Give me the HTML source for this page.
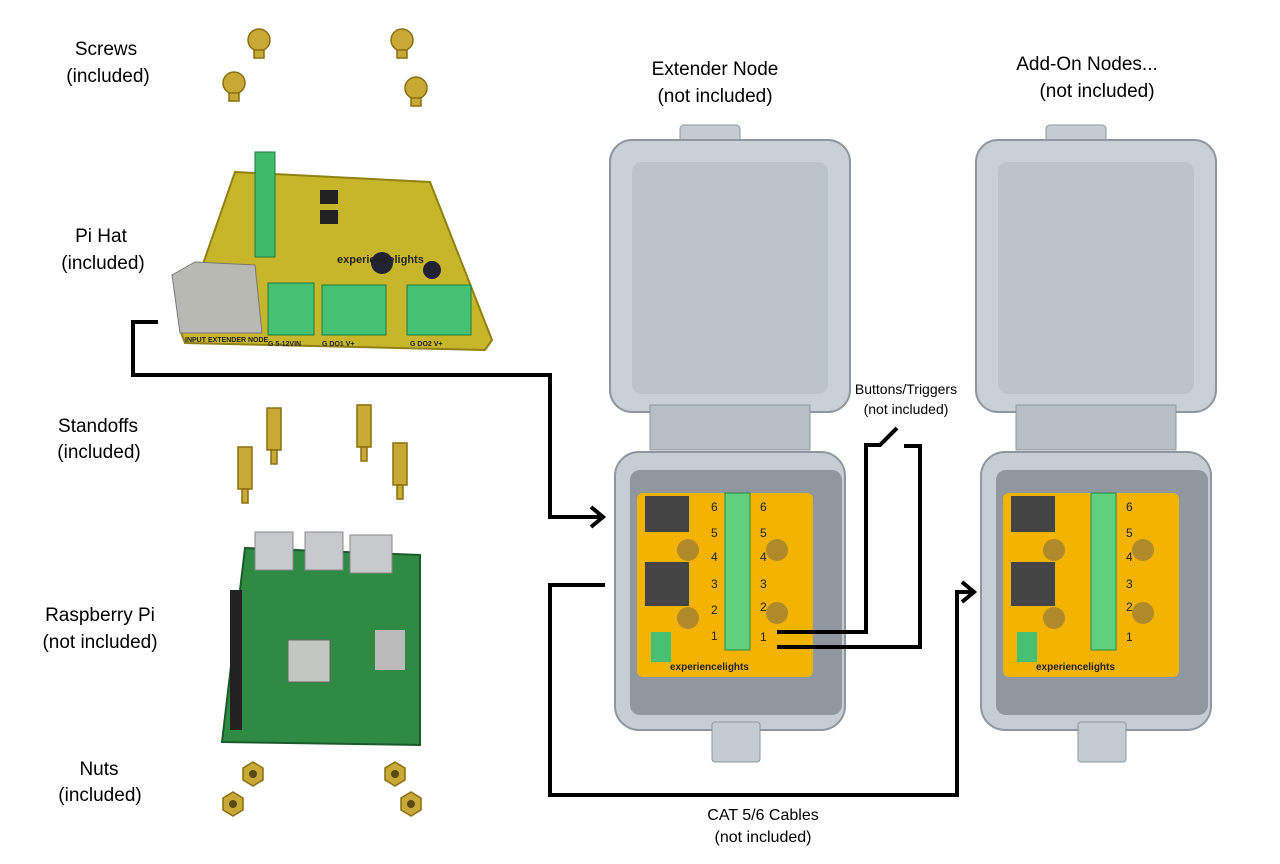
<!DOCTYPE html>
<html><head><meta charset="utf-8"><style>
html,body{margin:0;padding:0;background:#fff;}
svg{display:block;font-family:"Liberation Sans",sans-serif;}
</style></head><body>
<svg width="1280" height="864" viewBox="0 0 1280 864" xmlns="http://www.w3.org/2000/svg">
<rect width="1280" height="864" fill="#fff"/>
<!-- left labels -->
<g font-size="19" text-anchor="middle" fill="#000">
<text x="106" y="55">Screws</text><text x="108" y="82">(included)</text>
<text x="101" y="242">Pi Hat</text><text x="103" y="269">(included)</text>
<text x="98" y="432">Standoffs</text><text x="99" y="458">(included)</text>
<text x="100" y="621">Raspberry Pi</text><text x="100" y="648">(not included)</text>
<text x="99" y="775">Nuts</text><text x="100" y="801">(included)</text>
<text x="715" y="75">Extender Node</text><text x="715" y="102">(not included)</text>
<text x="1087" y="70">Add-On Nodes...</text><text x="1097" y="97">(not included)</text>
</g>
<g font-size="14" text-anchor="middle"><text x="906" y="394">Buttons/Triggers</text><text x="906" y="414">(not included)</text></g>
<g font-size="16" text-anchor="middle"><text x="763" y="820">CAT 5/6 Cables</text><text x="763" y="842">(not included)</text></g>

<!-- screws -->
<g fill="#c9a935" stroke="#8a6d10" stroke-width="1.5">
<circle cx="259" cy="40" r="11"/><rect x="254" y="50" width="10" height="8"/>
<circle cx="402" cy="40" r="11"/><rect x="397" y="50" width="10" height="8"/>
<circle cx="234" cy="83" r="11"/><rect x="229" y="93" width="10" height="8"/>
<circle cx="416" cy="88" r="11"/><rect x="411" y="98" width="10" height="8"/>
</g>
<!-- Pi hat -->
<polygon points="235,172 430,182 492,340 485,350 185,343 180,330" fill="#c8b62a" stroke="#8f8010" stroke-width="2"/>
<polygon points="172,275 195,262 255,265 262,333 180,333" fill="#b9b9b4" stroke="#777" />
<rect x="255" y="152" width="20" height="105" fill="#3dbb6a" stroke="#1e7a3f"/>
<rect x="268" y="283" width="46" height="52" fill="#46c072" stroke="#1e7a3f"/>
<rect x="322" y="285" width="64" height="50" fill="#46c072" stroke="#1e7a3f"/>
<rect x="407" y="285" width="64" height="50" fill="#46c072" stroke="#1e7a3f"/>
<circle cx="382" cy="263" r="11" fill="#223"/><circle cx="432" cy="270" r="9" fill="#223"/>
<rect x="320" y="190" width="18" height="14" fill="#222"/><rect x="320" y="210" width="18" height="14" fill="#222"/>
<text x="337" y="263" font-size="11" font-weight="bold" fill="#222">experiencelights</text>
<g font-size="7" font-weight="bold" fill="#222"><text x="185" y="342">INPUT EXTENDER NODE</text><text x="268" y="346">G  5-12VIN</text><text x="322" y="346">G  DO1  V+</text><text x="410" y="346">G  DO2  V+</text></g>
<!-- standoffs -->
<g fill="#c9a935" stroke="#8a6d10" stroke-width="1.5">
<rect x="267" y="408" width="14" height="42"/><rect x="271" y="450" width="6" height="14"/>
<rect x="357" y="405" width="14" height="42"/><rect x="361" y="447" width="6" height="14"/>
<rect x="238" y="447" width="14" height="42"/><rect x="242" y="489" width="6" height="14"/>
<rect x="393" y="443" width="14" height="42"/><rect x="397" y="485" width="6" height="14"/>
</g>
<!-- Raspberry Pi -->
<polygon points="245,548 420,555 420,745 222,742" fill="#2f8a44" stroke="#1b5a2a" stroke-width="2"/>
<rect x="255" y="532" width="38" height="38" fill="#c7c9cc" stroke="#888"/>
<rect x="305" y="532" width="38" height="38" fill="#c7c9cc" stroke="#888"/>
<rect x="350" y="535" width="42" height="38" fill="#c7c9cc" stroke="#888"/>
<rect x="288" y="640" width="42" height="42" fill="#c4c6c4" stroke="#666"/>
<rect x="230" y="590" width="12" height="140" fill="#222"/>
<rect x="375" y="630" width="30" height="40" fill="#bbb"/>
<!-- nuts -->
<g fill="#c9a935" stroke="#8a6d10" stroke-width="1.5">
<polygon points="243,768 253,762 263,768 263,780 253,786 243,780"/>
<polygon points="385,768 395,762 405,768 405,780 395,786 385,780"/>
<polygon points="223,798 233,792 243,798 243,810 233,816 223,810"/>
<polygon points="401,798 411,792 421,798 421,810 411,816 401,810"/>
</g>
<g fill="#5a4a10"><circle cx="253" cy="774" r="4"/><circle cx="395" cy="774" r="4"/><circle cx="233" cy="804" r="4"/><circle cx="411" cy="804" r="4"/></g>

<!-- enclosure 1 -->
<g>
<rect x="680" y="125" width="60" height="30" rx="4" fill="#c4cbd2" stroke="#8e979f"/>
<rect x="610" y="140" width="240" height="272" rx="22" fill="#c9d0d7" stroke="#8e979f" stroke-width="2"/>
<rect x="632" y="162" width="196" height="232" rx="10" fill="#bcc4cb"/>
<rect x="650" y="405" width="160" height="45" fill="#b7bfc6" stroke="#8e979f"/>
<rect x="615" y="452" width="230" height="278" rx="24" fill="#c6cdd4" stroke="#8e979f" stroke-width="2"/>
<rect x="630" y="470" width="212" height="245" rx="10" fill="#90979e"/>
<rect x="637" y="493" width="176" height="184" rx="6" fill="#f4b300"/>
<rect x="645" y="496" width="44" height="36" fill="#444"/><rect x="645" y="562" width="44" height="44" fill="#444"/>
<rect x="725" y="493" width="25" height="157" fill="#5fd07e" stroke="#2a8a48"/>
<g fill="#b08a2a"><circle cx="688" cy="550" r="11"/><circle cx="688" cy="618" r="11"/><circle cx="777" cy="550" r="11"/><circle cx="777" cy="613" r="11"/></g>
<rect x="651" y="632" width="20" height="30" fill="#46c072"/>
<g font-size="12" fill="#222"><text x="760" y="511">6</text><text x="760" y="537">5</text><text x="760" y="561">4</text><text x="760" y="588">3</text><text x="760" y="611">2</text><text x="760" y="641">1</text>
<text x="711" y="511">6</text><text x="711" y="537">5</text><text x="711" y="561">4</text><text x="711" y="588">3</text><text x="711" y="614">2</text><text x="711" y="640">1</text></g>
<text x="670" y="670" font-size="10" font-weight="bold" fill="#222">experiencelights</text>
<rect x="712" y="722" width="48" height="40" rx="3" fill="#c4cbd2" stroke="#8e979f"/>
</g>
<!-- enclosure 2 -->
<g transform="translate(366,0)">
<rect x="680" y="125" width="60" height="30" rx="4" fill="#c4cbd2" stroke="#8e979f"/>
<rect x="610" y="140" width="240" height="272" rx="22" fill="#c9d0d7" stroke="#8e979f" stroke-width="2"/>
<rect x="632" y="162" width="196" height="232" rx="10" fill="#bcc4cb"/>
<rect x="650" y="405" width="160" height="45" fill="#b7bfc6" stroke="#8e979f"/>
<rect x="615" y="452" width="230" height="278" rx="24" fill="#c6cdd4" stroke="#8e979f" stroke-width="2"/>
<rect x="630" y="470" width="212" height="245" rx="10" fill="#90979e"/>
<rect x="637" y="493" width="176" height="184" rx="6" fill="#f4b300"/>
<rect x="645" y="496" width="44" height="36" fill="#444"/><rect x="645" y="562" width="44" height="44" fill="#444"/>
<rect x="725" y="493" width="25" height="157" fill="#5fd07e" stroke="#2a8a48"/>
<g fill="#b08a2a"><circle cx="688" cy="550" r="11"/><circle cx="688" cy="618" r="11"/><circle cx="777" cy="550" r="11"/><circle cx="777" cy="613" r="11"/></g>
<rect x="651" y="632" width="20" height="30" fill="#46c072"/>
<g font-size="12" fill="#222"><text x="760" y="511">6</text><text x="760" y="537">5</text><text x="760" y="561">4</text><text x="760" y="588">3</text><text x="760" y="611">2</text><text x="760" y="641">1</text></g>
<text x="670" y="670" font-size="10" font-weight="bold" fill="#222">experiencelights</text>
<rect x="712" y="722" width="48" height="40" rx="3" fill="#c4cbd2" stroke="#8e979f"/>
</g>

<!-- wires -->
<g fill="none" stroke="#000" stroke-width="4" stroke-linejoin="miter">
<polyline points="158,322 133,322 133,375 550,375 550,517 600,517"/>
<polyline points="591,507 603,517 591,527"/>
<polyline points="605,585 550,585 550,795 957,795 957,592 971,592"/>
<polyline points="962,582 974,592 962,602"/>
<polyline points="777,632 866,632 866,445 880,445 897,428"/>
<polyline points="777,647 920,647 920,446 904,446"/>
</g>
</svg>
</body></html>
